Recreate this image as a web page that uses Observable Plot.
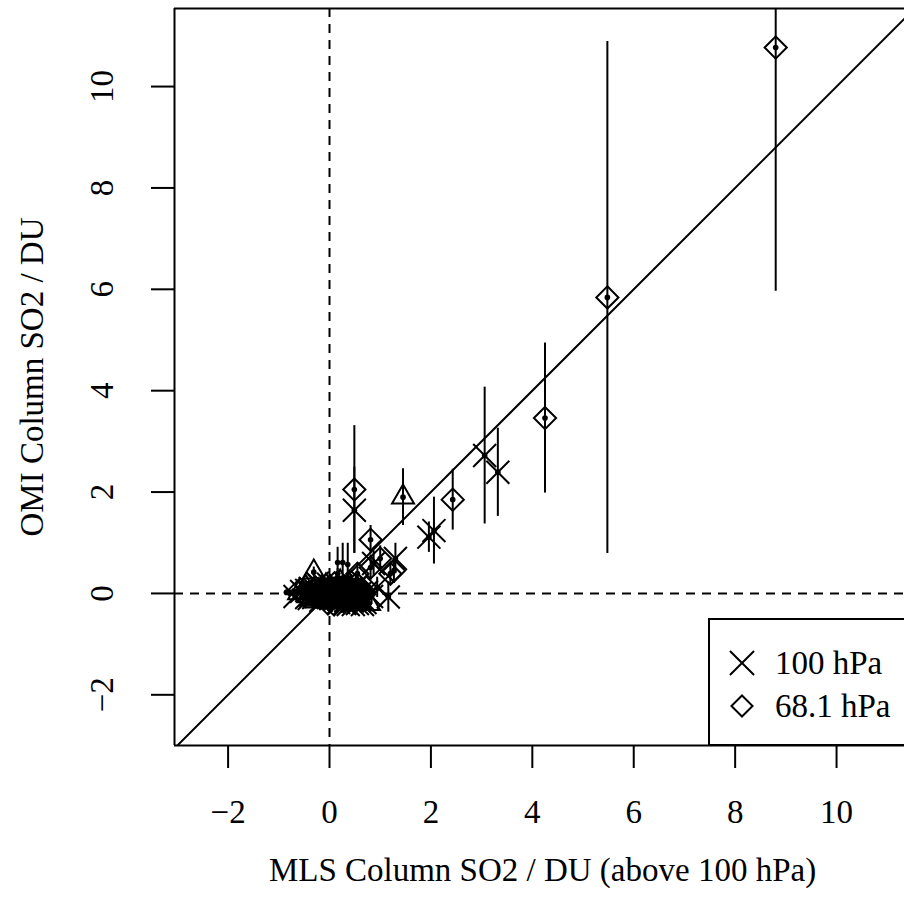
<!DOCTYPE html>
<html>
<head>
<meta charset="utf-8">
<script src="https://cdn.jsdelivr.net/npm/d3@7"></script>
<script src="https://cdn.jsdelivr.net/npm/@observablehq/plot@0.6"></script>
<style>
  html, body { margin: 0; padding: 0; background: #fff; }
  #wrap { position: relative; width: 904px; height: 913px; overflow: hidden; background: #fff; }
  #legend { position: absolute; left: 708px; top: 618px; width: 240px; height: 124px;
            border: 2px solid #000; background: #fff; }
  svg text { font-family: "Liberation Serif", "Times New Roman", serif; }
</style>
</head>
<body>
<div id="wrap"><div id="chart"></div><div id="legend"></div></div>
<script>
// ---- data ----
// symbol type: "x" = 100 hPa, "d" = 68.1 hPa, "t" = triangle, "o" = circle, "n" = dot only
const pointType = [
  "d","d","d","x","x","d","x","x","t","d","x","d",
  "d","d","d","d","d","x","x","x","x","n","n","n","n",
  "n","n","n","n","t","x","d","x","t","x","d","x","t","d","x","t","x","d","o","x","t","d","x","x",
  "d","t","x","d","x","t","x","d","x","t","d","x","x","d","t","x","d","x","x","d","x","t","x","d","x","x","d",
  "x","d","t","x","d","x","t","d","x","x","d","t","x","d","x","t","x","d","x","t",
  "d","x","x","d","t","x","d","x","t","x","d","x","d","x","t","x","d","x","t","d",
  "x","d","t","x","d","t","x","d","t","x","d","t","x","d","t","x","d","t","x","d","t","x","d","t","x","d","t","x","d","x"
];
const mlsColumn = [
  8.80, 5.48, 4.25, 3.06, 3.32, 2.43, 2.06, 1.96, 1.45, 0.49, 0.49, 0.81,
  0.55, 0.81, 1.00, 1.20, 1.27, 1.30, 0.87, 1.16, 0.94, 0.16, 0.26, 0.36, 0.16,
  -0.85, -0.78, -0.72, -0.65, -0.60, -0.55, -0.50, -0.45, -0.42, -0.38, -0.35, -0.31, -0.31, -0.28, -0.25, -0.22, -0.20, -0.18, -0.12, -0.10, -0.08, -0.05, -0.02, 0.00,
  0.03, 0.05, 0.08, 0.10, 0.12, 0.15, 0.18, 0.20, 0.22, 0.25, 0.28, 0.30, 0.33, 0.35, 0.38, 0.40, 0.43, 0.45, 0.48, 0.50, 0.55, 0.53, 0.60, 0.58, 0.63, 0.70, 0.66,
  -0.40, -0.33, -0.27, -0.24, -0.15, -0.13, -0.07, -0.03, 0.02, 0.06, 0.09, 0.11, 0.14, 0.17, 0.19, 0.21, 0.24, 0.27, 0.29, 0.31,
  0.34, 0.37, 0.39, 0.42, 0.44, 0.47, 0.49, 0.52, 0.56, 0.59, 0.62, 0.65, 0.68, 0.73, 0.78, 0.83, -0.58, -0.68, -0.47, -0.52,
  -0.45, -0.40, -0.36, -0.30, -0.26, -0.21, -0.17, -0.14, -0.09, -0.06, -0.01, 0.01, 0.04, 0.07, 0.11, 0.13, 0.16, 0.19, 0.23, 0.26,
  0.30, 0.32, 0.36, 0.41, 0.46, 0.51, 0.54, 0.57, 0.61, 0.67
];
const omiColumn = [
  10.77, 5.84, 3.46, 2.72, 2.39, 1.85, 1.24, 1.11, 1.90, 2.05, 1.64, 1.06,
  0.39, 0.51, 0.69, 0.39, 0.45, 0.69, 0.59, -0.07, 0.12, 0.61, 0.61, 0.57, 0.39,
  0.02, 0.00, 0.03, -0.02, 0.01, 0.04, -0.03, 0.06, -0.05, 0.10, 0.00, -0.08, 0.42, 0.12, 0.03, -0.10, 0.15, -0.02, -0.16, 0.08, -0.12, 0.05, 0.18, -0.05,
  0.10, -0.15, 0.02, 0.20, -0.10, 0.08, -0.18, 0.00, 0.15, -0.08, 0.10, -0.20, 0.05, -0.12, 0.18, -0.03, 0.22, -0.15, 0.08, -0.08, -0.20, 0.02, 0.00, 0.15, -0.12, -0.18, 0.05,
  -0.10, 0.05, -0.15, 0.20, 0.10, -0.05, 0.15, -0.20, 0.00, 0.15, -0.22, 0.05, -0.02, 0.12, -0.12, 0.22, 0.03, -0.15, 0.05, -0.05,
  0.15, -0.22, 0.08, -0.10, 0.02, -0.22, 0.15, -0.05, 0.05, -0.15, 0.08, -0.22, -0.02, 0.03, -0.20, -0.06, 0.08, -0.06, 0.12, 0.00,
  -0.08, 0.02, -0.12, 0.08, -0.03, 0.05, -0.14, 0.02, -0.08, 0.11, -0.12, 0.06, -0.06, 0.09, -0.16, 0.01, -0.06, 0.06, -0.12, 0.00,
  0.10, -0.14, -0.02, 0.06, -0.06, 0.05, -0.14, -0.02, -0.08, -0.12
];
const omiError = [
  4.81, 5.05, 1.48, 1.35, 0.87, 0.60, 0.66, 0.30, 0.56, 1.26, 0.85, 0.28,
  0.20, 0.25, 0.25, 0.20, 0.25, 0.30, 0.25, 0.30, 0.20, 0.30, 0.38, 0.42, 0.10,
  0.05, 0.05, 0.06, 0.06, 0.05, 0.07, 0.06, 0.08, 0.07, 0.08, 0.07, 0.09, 0.10, 0.09, 0.08, 0.08, 0.10, 0.09, 0.10, 0.10, 0.09, 0.10, 0.10, 0.10,
  0.11, 0.10, 0.12, 0.12, 0.11, 0.10, 0.12, 0.12, 0.12, 0.11, 0.12, 0.13, 0.12, 0.12, 0.12, 0.13, 0.13, 0.13, 0.14, 0.13, 0.14, 0.13, 0.15, 0.14, 0.15, 0.16, 0.15,
  0.08, 0.08, 0.09, 0.10, 0.09, 0.10, 0.10, 0.10, 0.10, 0.11, 0.11, 0.11, 0.11, 0.12, 0.12, 0.12, 0.12, 0.12, 0.12, 0.12,
  0.12, 0.13, 0.13, 0.13, 0.13, 0.13, 0.13, 0.13, 0.14, 0.14, 0.14, 0.15, 0.15, 0.15, 0.16, 0.16, 0.06, 0.06, 0.07, 0.07,
  0.07, 0.08, 0.08, 0.08, 0.09, 0.09, 0.09, 0.09, 0.10, 0.10, 0.10, 0.10, 0.10, 0.11, 0.11, 0.11, 0.11, 0.11, 0.12, 0.12,
  0.12, 0.12, 0.12, 0.13, 0.13, 0.13, 0.13, 0.14, 0.14, 0.14
];
const xTicks = [-2, 0, 2, 4, 6, 8, 10];
const yTicks = [-2, 0, 2, 4, 6, 8, 10];
const xDomain = [-3.057, 11.34];
const yDomain = [-3.0, 11.54];
const xTitle = "MLS Column SO2 / DU (above 100 hPa)";
const yTitle = "OMI Column SO2 / DU";
const legendLabels = ["100 hPa", "68.1 hPa"];
const legendSymbols = ["x", "d"];

// ---- build ----
const points = pointType.map((t, i) => ({type: t, x: mlsColumn[i], y: omiColumn[i], e: omiError[i]}));
const ofType = t => points.filter(d => d.type === t);
const fmt = d => d < 0 ? "\u2212" + Math.abs(d) : String(d);
const diag = [xDomain[0], Math.max(xDomain[1], yDomain[1]) + 1].map(v => [v, v]);
const FS = 33;
const FF = "'Liberation Serif', 'Times New Roman', serif";

const symbolStyle = {
  x: {symbol: "times", r: 10.5},
  d: {symbol: "diamond2", r: 10},
  t: {symbol: "triangle2", r: 10.5},
  o: {symbol: "circle", r: 7.5}
};

const chart = Plot.plot({
  width: 904,
  height: 913,
  marginLeft: 174,
  marginRight: 0,
  marginTop: 8,
  marginBottom: 168,
  x: {domain: xDomain},
  y: {domain: yDomain},
  style: {fontFamily: FF, fontSize: FS + "px", background: "white", color: "black"},
  marks: [
    Plot.ruleX([0], {stroke: "black", strokeWidth: 2, strokeDasharray: "9,7"}),
    Plot.ruleY([0], {stroke: "black", strokeWidth: 2, strokeDasharray: "9,7"}),
    Plot.line(diag, {x: d => d[0], y: d => d[1], stroke: "black", strokeWidth: 2, clip: true}),
    Plot.ruleX(points, {x: "x", y1: d => d.y - d.e, y2: d => d.y + d.e, stroke: "black", strokeWidth: 2, clip: true}),
    ...["x", "d", "t", "o"].map(t => Plot.dot(ofType(t), {x: "x", y: "y", ...symbolStyle[t], stroke: "black", strokeWidth: 2, fill: "none", clip: true})),
    Plot.dot(points, {x: "x", y: "y", r: 2.8, fill: "black", stroke: "none", clip: true}),
    // frame (top, left, bottom; right edge lies outside the picture)
    Plot.ruleY([yDomain[1]], {stroke: "black", strokeWidth: 2}),
    Plot.ruleY([yDomain[0]], {stroke: "black", strokeWidth: 2}),
    Plot.ruleX([xDomain[0]], {stroke: "black", strokeWidth: 2}),
    // axes
    Plot.axisX(xTicks, {tickSize: 23, tickPadding: 31, strokeWidth: 2, fontSize: FS, fontFamily: FF, tickFormat: fmt, label: null}),
    Plot.axisY(yTicks, {tickSize: 23, strokeWidth: 2, fill: "none", label: null}),
    Plot.text(yTicks, {y: d => d, text: fmt, frameAnchor: "left", textAnchor: "middle", lineAnchor: "middle", dx: -72, rotate: -90, fontSize: FS, fontFamily: FF, fill: "black"}),
    Plot.text([xTitle], {text: d => d, frameAnchor: "bottom", textAnchor: "middle", lineAnchor: "middle", dx: 3, dy: 125, fontSize: FS, fontFamily: FF, fill: "black"}),
    Plot.text([yTitle], {text: d => d, frameAnchor: "left", textAnchor: "middle", lineAnchor: "middle", dx: -142, rotate: -90, fontSize: FS, fontFamily: FF, fill: "black"})
  ]
});
document.getElementById("chart").appendChild(chart);

// ---- legend ----
const lg = d3.select("#legend").append("svg").attr("width", 240).attr("height", 124)
  .style("display", "block");
const symFor = {x: d3.symbolTimes, d: d3.symbolDiamond2};
const symR = {x: 11, d: 9.5};
const rows = lg.selectAll("g").data(legendLabels.map((l, i) => ({label: l, sym: legendSymbols[i]})))
  .join("g").attr("transform", (d, i) => `translate(0,${43 + i * 43})`);
rows.append("path")
  .attr("transform", "translate(32,0)")
  .attr("d", d => d3.symbol(symFor[d.sym], Math.PI * symR[d.sym] * symR[d.sym])())
  .attr("fill", "none").attr("stroke", "black").attr("stroke-width", 2);
rows.append("text").attr("x", 65).attr("dy", "0.33em").attr("font-size", FS)
  .attr("font-family", FF).attr("fill", "black")
  .text(d => d.label);
</script>
</body>
</html>
